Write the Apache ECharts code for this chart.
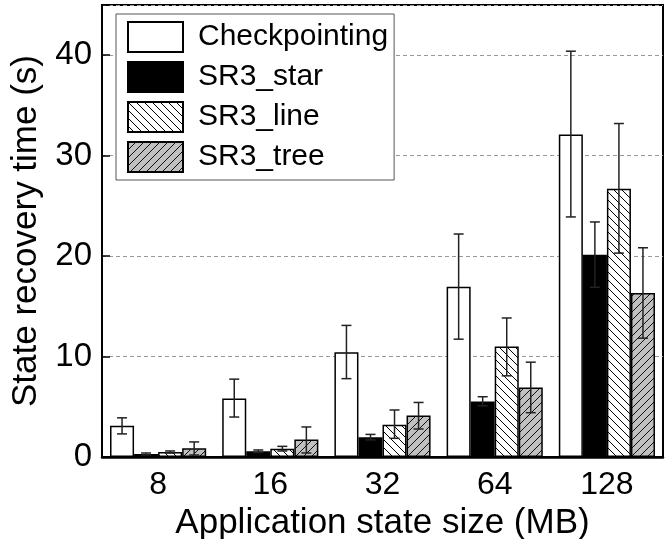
<!DOCTYPE html>
<html>
<head>
<meta charset="utf-8">
<script src="https://cdn.jsdelivr.net/npm/echarts@6/dist/echarts.min.js"></script>
<style>
  html, body { margin: 0; padding: 0; background: #fff; }
  #chart { width: 665px; height: 539px; }
</style>
</head>
<body>
<div id="chart"></div>
<script>
// data
const categories = ['8', '16', '32', '64', '128'];
const seriesNames = ['Checkpointing', 'SR3_star', 'SR3_line', 'SR3_tree'];

const checkpointing = [3.1, 5.83, 10.44, 16.95, 32.1];
const checkpointingHi = [3.9, 7.75, 13.1, 22.2, 40.4];
const checkpointingLo = [2.3, 3.98, 7.8, 11.73, 23.9];

const sr3Star = [0.3, 0.57, 1.96, 5.53, 20.13];
const sr3StarHi = [0.4, 0.7, 2.25, 6.0, 23.4];
const sr3StarLo = [0.2, 0.45, 1.7, 5.1, 16.9];

const sr3Line = [0.5, 0.83, 3.22, 11.0, 26.7];
const sr3LineHi = [0.6, 1.06, 4.68, 13.84, 33.2];
const sr3LineLo = [0.4, 0.6, 1.86, 8.08, 20.3];

const sr3Tree = [0.86, 1.73, 4.14, 6.92, 16.33];
const sr3TreeHi = [1.5, 2.99, 5.43, 9.44, 20.83];
const sr3TreeLo = [0.2, 0.4, 2.79, 4.41, 11.83];

const yTicks = [0, 10, 20, 30, 40];

// hatch tiles
function hatch(bg, fg, back) {
  const s = 8;
  const c = document.createElement('canvas');
  c.width = s; c.height = s;
  const g = c.getContext('2d');
  g.fillStyle = bg;
  g.fillRect(0, 0, s, s);
  g.strokeStyle = fg;
  g.lineWidth = 1;
  g.beginPath();
  if (back) {
    // "\" direction
    g.moveTo(-2, -2); g.lineTo(s + 2, s + 2);
    g.moveTo(-2, s - 2); g.lineTo(2, s + 2);
    g.moveTo(s - 2, -2); g.lineTo(s + 2, 2);
  } else {
    // "/" direction
    g.moveTo(-2, s + 2); g.lineTo(s + 2, -2);
    g.moveTo(-2, 2); g.lineTo(2, -2);
    g.moveTo(s - 2, s + 2); g.lineTo(s + 2, s - 2);
  }
  g.stroke();
  return { image: c, repeat: 'repeat' };
}

const gapRatio = 0.143;
const fills = ['#ffffff', '#000000', hatch('#ffffff', '#000000', true), hatch('#c0c0c0', '#111111', false)];
const values = [checkpointing, sr3Star, sr3Line, sr3Tree];
const his = [checkpointingHi, sr3StarHi, sr3LineHi, sr3TreeHi];
const los = [checkpointingLo, sr3StarLo, sr3LineLo, sr3TreeLo];

const errData = [];
for (let s = 0; s < 4; s++) {
  for (let i = 0; i < categories.length; i++) {
    errData.push([i, his[s][i], los[s][i], s]);
  }
}

const chart = echarts.init(document.getElementById('chart'));
const font = 'Liberation Sans, Arial, sans-serif';

const barSeries = seriesNames.map((name, s) => ({
  name: name,
  type: 'bar',
  data: values[s],
  barGap: '0%',
  barCategoryGap: (gapRatio * 100) + '%',
  itemStyle: { color: fills[s], borderColor: '#000', borderWidth: 1.5 },
  z: 2
}));

const option = {
  animation: false,
  backgroundColor: '#fff',
  grid: {
    left: 102, right: 2, top: 5, bottom: 82,
    outerBoundsMode: 'none',
    containLabel: false,
    show: true, borderColor: '#000', borderWidth: 2
  },
  legend: {
    data: seriesNames,
    orient: 'vertical',
    left: 116, top: 14,
    icon: 'rect',
    itemWidth: 55, itemHeight: 30, itemGap: 8,
    padding: [7, 6, 7, 11],
    backgroundColor: '#fff',
    borderColor: '#555', borderWidth: 1,
    textStyle: { fontFamily: font, fontSize: 30, color: '#000', padding: [0, 0, 0, 10] },
    z: 10
  },
  xAxis: {
    type: 'category',
    data: categories,
    name: 'Application state size (MB)',
    nameLocation: 'middle',
    nameGap: 41,
    nameTextStyle: { fontFamily: font, fontSize: 35, color: '#000' },
    axisLine: { lineStyle: { color: '#000', width: 2.5 } },
    axisTick: { show: false },
    axisLabel: { fontFamily: font, fontSize: 32, color: '#000', margin: 12 }
  },
  yAxis: {
    type: 'value',
    min: 0, max: 45, interval: 10,
    name: 'State recovery time (s)',
    nameLocation: 'middle',
    nameGap: 58,
    nameTextStyle: { fontFamily: font, fontSize: 35, color: '#000' },
    axisLine: { show: true, lineStyle: { color: '#000', width: 2 } },
    axisTick: { show: true, inside: true, length: 8, lineStyle: { color: '#000', width: 1.5 } },
    axisLabel: {
      fontFamily: font, fontSize: 33, color: '#000', margin: 10,
      formatter: v => (yTicks.indexOf(v) >= 0 ? String(v) : '')
    },
    splitLine: {
      show: true,
      lineStyle: { color: '#999', width: 1, type: [4, 3] }
    }
  },
  series: barSeries.concat([{
    type: 'custom',
    name: 'err',
    data: errData,
    encode: { x: 0, y: [1, 2] },
    z: 5,
    renderItem: function (params, api) {
      const cat = api.value(0), hi = api.value(1), lo = api.value(2), s = api.value(3);
      const band = api.size([1, 0])[0];
      const barW = band * (1 - gapRatio) / 4;
      const x = api.coord([cat, 0])[0] - 2 * barW + barW * (s + 0.5);
      const yh = api.coord([cat, hi])[1];
      const yl = api.coord([cat, lo])[1];
      const cap = 5;
      const st = { stroke: '#222', lineWidth: 1.5 };
      return {
        type: 'group',
        children: [
          { type: 'line', shape: { x1: x, y1: yh, x2: x, y2: yl }, style: st },
          { type: 'line', shape: { x1: x - cap, y1: yh, x2: x + cap, y2: yh }, style: st },
          { type: 'line', shape: { x1: x - cap, y1: yl, x2: x + cap, y2: yl }, style: st }
        ]
      };
    }
  }])
};

chart.setOption(option);
</script>
</body>
</html>
